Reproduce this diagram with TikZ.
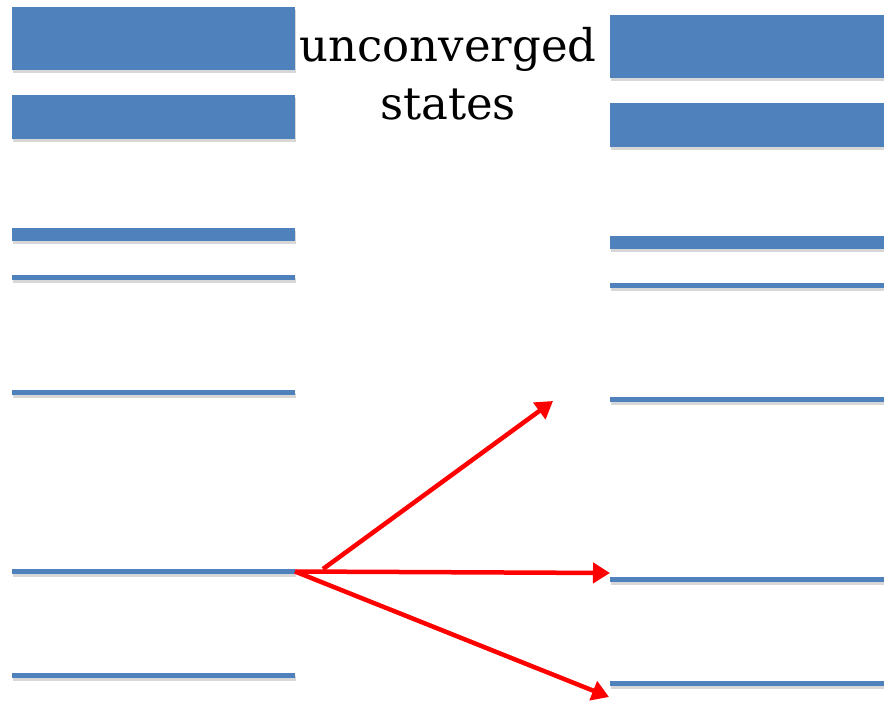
\documentclass[tikz,border=0pt]{standalone}
\usepackage{fontspec}
\setmainfont{DejaVu Serif}
\usetikzlibrary{arrows.meta,shadows}
\definecolor{barblue}{HTML}{4F81BD}
\definecolor{arrred}{HTML}{FF0000}
\tikzset{
  bar/.style={rectangle, inner sep=0pt, outer sep=0pt, fill=barblue, draw=none,
    drop shadow={shadow xshift=1pt, shadow yshift=-3pt, opacity=0.22, fill=black!70}},
  lbar/.style={bar, minimum width=283pt},
  rbar/.style={bar, minimum width=274pt},
  transition/.style={draw=arrred, line width=4.5pt,
    -{Triangle[length=17pt,width=20pt]}},
  label/.style={align=center, inner sep=0pt, font=\fontsize{45}{58}\selectfont}
}
\begin{document}
\begin{tikzpicture}[x=1pt,y=-1pt]
\useasboundingbox[fill=white] (0,0) rectangle (884,701);
% left levels
\node[lbar, minimum height=63pt] (L1) at (153.5,38.5) {};
\node[lbar, minimum height=44pt] (L2) at (153.5,117) {};
\node[lbar, minimum height=13pt] (L3) at (153.5,234.5) {};
\node[lbar, minimum height=5pt]  (L4) at (153.5,277.5) {};
\node[lbar, minimum height=5pt]  (L5) at (153.5,392) {};
\node[lbar, minimum height=5pt]  (L6) at (153.5,571.5) {};
\node[lbar, minimum height=5pt]  (L7) at (153.5,675.5) {};
% right levels
\node[rbar, minimum height=63pt] (R1) at (747,46.5) {};
\node[rbar, minimum height=44pt] (R2) at (747,125) {};
\node[rbar, minimum height=13pt] (R3) at (747,242.5) {};
\node[rbar, minimum height=5pt]  (R4) at (747,285.5) {};
\node[rbar, minimum height=5pt]  (R5) at (747,399.5) {};
\node[rbar, minimum height=5pt]  (R6) at (747,579.5) {};
\node[rbar, minimum height=5pt]  (R7) at (747,683.5) {};
% label
\node[label] (lab) at (448,73.5) {unconverged\\states};
% arrows
\coordinate (src) at (L6.east);
\coordinate (branch) at (323,569);
\coordinate (tipup) at (553,401);
\coordinate (tipmid) at (610,573);
\coordinate (tiplow) at (609,697);
\draw[transition] (src) -- (tipmid);
\draw[transition] (src) -- (tiplow);
\draw[transition] (branch) -- (tipup);
\end{tikzpicture}
\end{document}
